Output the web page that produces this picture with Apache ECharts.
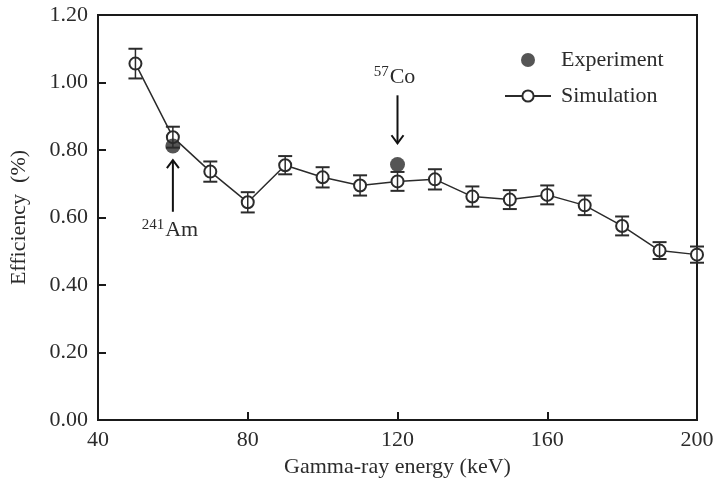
<!DOCTYPE html>
<html>
<head>
<meta charset="utf-8">
<script src="https://cdn.jsdelivr.net/npm/echarts@6/dist/echarts.min.js"></script>
<style>
  html, body { margin: 0; padding: 0; background: #fff; }
  #chart { width: 718px; height: 492px; }
</style>
</head>
<body>
<div id="chart"></div>
<script>
// simulated efficiency (%) with error bars
const energies = [50, 60, 70, 80, 90, 100, 110, 120, 130, 140, 150, 160, 170, 180, 190, 200]
const simValues = [1.056, 0.838, 0.736, 0.645, 0.755, 0.719, 0.695, 0.707, 0.713, 0.662, 0.653, 0.667, 0.636, 0.575, 0.502, 0.490]
const simErrors = [0.044, 0.031, 0.030, 0.030, 0.027, 0.030, 0.030, 0.028, 0.030, 0.030, 0.028, 0.028, 0.029, 0.028, 0.025, 0.024]

// measured points
const expEnergies = [60, 120]
const expValues = [0.812, 0.757]

// isotope annotations: arrow tail/tip in efficiency units
const annEnergies = [60, 120]
const annTail = [0.617, 0.962]
const annTip = [0.770, 0.820]
const annMass = ['241', '57']
const annElement = ['Am', 'Co']

const xTicks = { min: 40, max: 200, interval: 40 }
const yTicks = { min: 0, max: 1.2, interval: 0.2 }

const ink = '#2b2b2b'
const font = 'Liberation Serif'

const chart = echarts.init(document.getElementById('chart'), null, { renderer: 'canvas' })

const errData = energies.map((e, i) => [e, simValues[i] - simErrors[i], simValues[i] + simErrors[i]])
const annData = annEnergies.map((e, i) => [e, annTail[i], annTip[i], i])

chart.setOption({
  animation: false,
  backgroundColor: '#fff',
  textStyle: { fontFamily: font, color: ink },
  grid: {
    left: 98, right: 21, top: 15, bottom: 72,
    show: true, borderColor: '#1a1a1a', borderWidth: 2,
  },
  legend: {
    orient: 'vertical',
    left: 499,
    top: 43,
    itemWidth: 46,
    itemHeight: 14,
    itemGap: 12,
    textStyle: { fontFamily: font, fontSize: 22, color: ink, lineHeight: 24, padding: [0, 0, 0, 5] },
    data: ['Experiment', 'Simulation'],
  },
  xAxis: {
    type: 'value',
    ...xTicks,
    name: 'Gamma-ray energy (keV)',
    nameLocation: 'middle',
    nameGap: 36,
    nameTextStyle: { fontFamily: font, fontSize: 22, color: ink },
    axisLine: { lineStyle: { color: '#1a1a1a', width: 2 } },
    axisTick: { inside: true, length: 8, lineStyle: { color: '#1a1a1a', width: 2 } },
    axisLabel: { fontFamily: font, fontSize: 22, color: ink, margin: 9 },
    splitLine: { show: false },
  },
  yAxis: {
    type: 'value',
    ...yTicks,
    name: 'Efficiency  (%)',
    nameLocation: 'middle',
    nameGap: 68,
    nameTextStyle: { fontFamily: font, fontSize: 22, color: ink },
    axisLine: { show: true, lineStyle: { color: '#1a1a1a', width: 2 } },
    axisTick: { show: true, inside: true, length: 8, lineStyle: { color: '#1a1a1a', width: 2 } },
    axisLabel: { fontFamily: font, fontSize: 22, color: ink, margin: 10, formatter: v => v.toFixed(2) },
    splitLine: { show: false },
  },
  series: [
    {
      name: 'Simulation',
      type: 'line',
      data: energies.map((e, i) => [e, simValues[i]]),
      symbol: 'emptyCircle',
      symbolSize: 12,
      itemStyle: { color: ink, borderWidth: 1.5 },
      lineStyle: { color: ink, width: 1.5 },
      z: 2,
    },
    {
      name: 'errors',
      type: 'custom',
      data: errData,
      z: 3,
      silent: true,
      renderItem: (params, api) => {
        const lo = api.coord([api.value(0), api.value(1)])
        const hi = api.coord([api.value(0), api.value(2)])
        const cap = 7
        const style = { stroke: ink, lineWidth: 2 }
        return {
          type: 'group',
          children: [
            { type: 'line', shape: { x1: lo[0], y1: lo[1], x2: hi[0], y2: hi[1] }, style: { stroke: ink, lineWidth: 1.5 } },
            { type: 'line', shape: { x1: lo[0] - cap, y1: lo[1], x2: lo[0] + cap, y2: lo[1] }, style },
            { type: 'line', shape: { x1: hi[0] - cap, y1: hi[1], x2: hi[0] + cap, y2: hi[1] }, style },
          ],
        }
      },
    },
    {
      name: 'Experiment',
      type: 'scatter',
      data: expEnergies.map((e, i) => [e, expValues[i]]),
      symbol: 'circle',
      symbolSize: 15,
      itemStyle: { color: ink },
      z: 4,
    },
    {
      name: 'isotopes',
      type: 'custom',
      data: annData,
      z: 5,
      silent: true,
      renderItem: (params, api) => {
        const tail = api.coord([api.value(0), api.value(1)])
        const tip = api.coord([api.value(0), api.value(2)])
        const i = api.value(3)
        const dir = tip[1] < tail[1] ? 1 : -1 // 1 = pointing up
        const head = 8
        const above = dir < 0
        return {
          type: 'group',
          children: [
            { type: 'line', shape: { x1: tail[0], y1: tail[1], x2: tip[0], y2: tip[1] }, style: { stroke: '#111', lineWidth: 2 } },
            {
              type: 'polyline',
              shape: { points: [[tip[0] - 6, tip[1] + dir * head], [tip[0], tip[1]], [tip[0] + 6, tip[1] + dir * head]] },
              style: { stroke: '#111', lineWidth: 2, fill: null },
            },
            {
              type: 'text',
              x: tail[0] - 3,
              y: above ? tail[1] - 6 : tail[1] + 6,
              style: {
                text: `{sup|${annMass[i]}}{el|${annElement[i]}}`,
                align: 'center',
                verticalAlign: above ? 'bottom' : 'top',
                rich: {
                  sup: { fontFamily: font, fontSize: 15, fill: ink, verticalAlign: 'top', padding: [0, 1, 10, 0] },
                  el: { fontFamily: font, fontSize: 22, fill: ink },
                },
              },
            },
          ],
        }
      },
    },
  ],
})
</script>
</body>
</html>
